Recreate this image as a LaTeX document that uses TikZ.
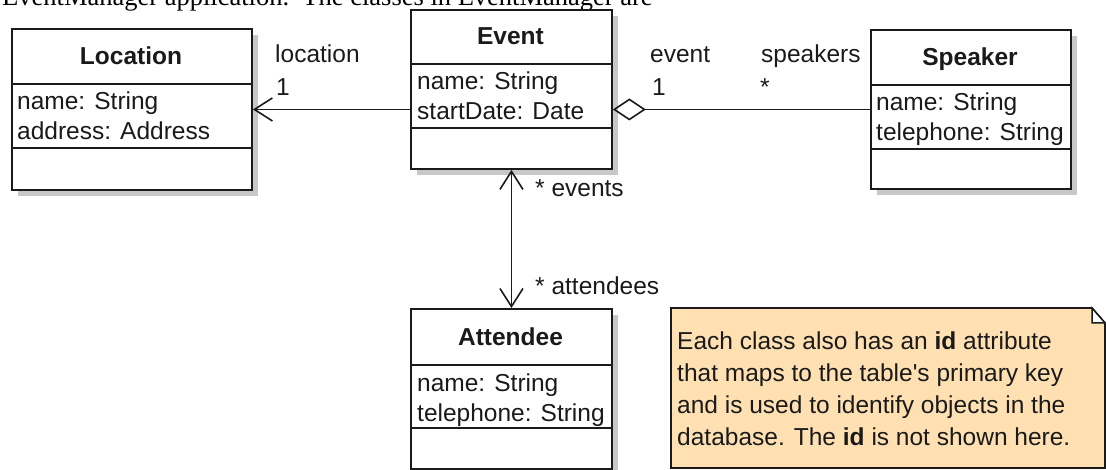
\documentclass[tikz,border=0pt]{standalone}
\usepackage{fontspec}
\setmainfont{Liberation Sans}
\newfontfamily\seriffont{Liberation Serif}
\usetikzlibrary{arrows.meta,shadows}
\definecolor{ink}{HTML}{1A1A1A}
\definecolor{notefill}{RGB}{255,224,178}
\definecolor{shadowgray}{RGB}{200,200,200}
\newcommand{\diagfont}{\fontsize{24.5}{29}\selectfont}
\tikzset{
  classbox/.style={draw=ink, line width=1.9pt, fill=white, inner sep=0pt, anchor=north west,
    drop shadow={shadow xshift=6pt, shadow yshift=-6pt, fill=shadowgray, opacity=1}},
  divider/.style={draw=ink, line width=1.7pt},
  title/.style={font=\diagfont\bfseries, text=ink, anchor=base, inner sep=0pt},
  attr/.style={font=\diagfont, text=ink, anchor=base west, inner sep=0pt},
  lbl/.style={font=\diagfont, text=ink, anchor=base west, inner sep=0pt},
  assoc/.style={draw=ink, line width=1.8pt},
  openarrow/.style={-{Straight Barb[length=18pt,width=23pt,line width=1.6pt]}},
  bothopen/.style={{Straight Barb[length=18pt,width=23pt,line width=1.6pt]}-{Straight Barb[length=18pt,width=23pt,line width=1.6pt]}},
  notebox/.style={draw=ink, line width=1.7pt, fill=notefill},
}
\begin{document}
\begin{tikzpicture}[x=1pt,y=-1pt]
\useasboundingbox (0,0) rectangle (1106,470);
% introductory text line, cut at the top as in the reference
\node[anchor=base west, inner sep=0pt, text=black, font=\seriffont\fontsize{26.5}{30}\selectfont] (intro) at (2,6) {EventManager application.\ \ The classes in EventManager are};

% ---- Location
\node[classbox, minimum width=240, minimum height=161] (loc) at (11,28) {};
\draw[divider] (11,84) -- (251,84);
\draw[divider] (11,148) -- (251,148);
\node[title] (loct) at (131,65) {Location};
\node[attr] (loca1) at (17,110) {name: String};
\node[attr] (loca2) at (17,140) {address: Address};

% ---- Event
\node[classbox, minimum width=201, minimum height=159] (ev) at (410,9) {};
\draw[divider] (410,64) -- (611,64);
\draw[divider] (410,128) -- (611,128);
\node[title] (evt) at (510.5,45) {Event};
\node[attr] (eva1) at (417,90) {name: String};
\node[attr] (eva2) at (417,120) {startDate: Date};

% ---- Speaker
\node[classbox, minimum width=200, minimum height=159] (sp) at (870,29) {};
\draw[divider] (870,85) -- (1070,85);
\draw[divider] (870,149) -- (1070,149);
\node[title] (spt) at (970,65.5) {Speaker};
\node[attr] (spa1) at (876,111) {name: String};
\node[attr] (spa2) at (876,141) {telephone: String};

% ---- Attendee
\node[classbox, minimum width=201, minimum height=160] (att) at (410,308) {};
\draw[divider] (410,365) -- (611,365);
\draw[divider] (410,428) -- (611,428);
\node[title] (attt) at (510.5,345) {Attendee};
\node[attr] (atta1) at (417,391) {name: String};
\node[attr] (atta2) at (417,421) {telephone: String};

% ---- connectors
\draw[assoc, openarrow] (ev.west |- loc.east) -- (loc.east);
\draw[assoc, {Diamond[open,length=33pt,width=22pt,line width=1.6pt]}-] (ev.east |- sp.west) -- (sp.west);
\draw[assoc, bothopen] (ev.south) -- (att.north);

% ---- labels
\node[lbl] (lloc) at (275,63) {location};
\node[lbl] (lloc1) at (276,96) {1};
\node[lbl] (lev) at (650,63) {event};
\node[lbl] (lev1) at (652,96) {1};
\node[lbl] (lsp) at (761,63) {speakers};
\node[lbl] (lspm) at (760,96) {*};
\node[lbl] (levs) at (535,197) {* events};
\node[lbl] (latt) at (535,295) {* attendees};

% ---- note
\path[notebox] (671,308) -- (1092,308) -- (1105,323) -- (1105,468) -- (671,468) -- cycle;
\path[draw=ink, line width=1.5pt, fill=white] (1092,308) -- (1092,323) -- (1105,323) -- cycle;
\node[lbl] (n1) at (677,350) {Each class also has an \textbf{id} attribute};
\node[lbl] (n2) at (677,381.5) {that maps to the table\textquotesingle s primary key};
\node[lbl] (n3) at (677,413) {and is used to identify objects in the};
\node[lbl] (n4) at (677,445) {database. The \textbf{id} is not shown here.};
\end{tikzpicture}
\end{document}
